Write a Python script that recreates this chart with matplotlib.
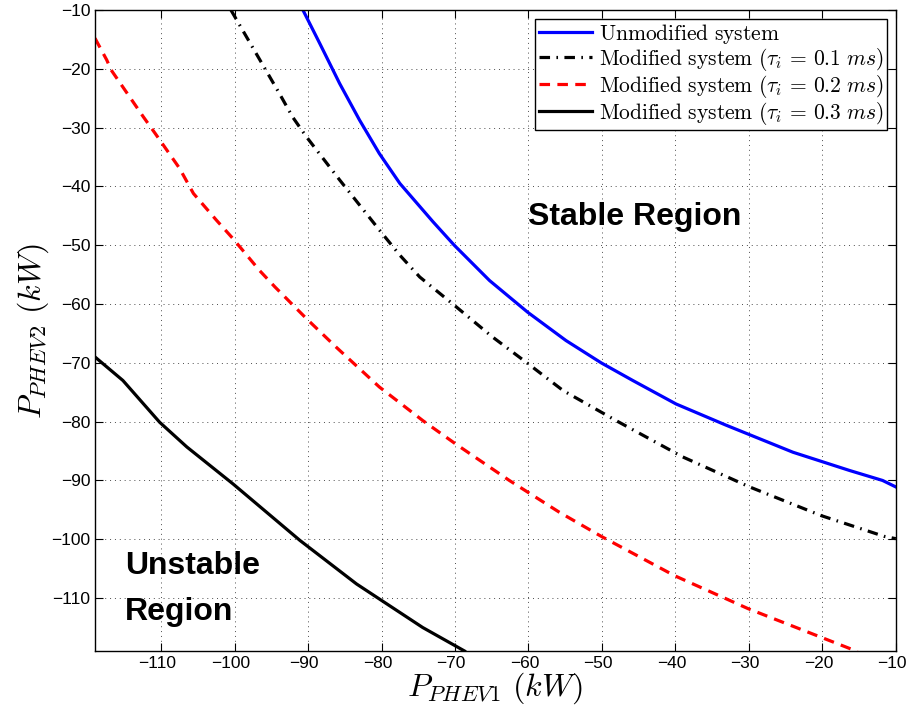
import matplotlib
matplotlib.use("Agg")
from matplotlib import pyplot as plt
from matplotlib.transforms import ScaledTranslation

plt.rcParams['mathtext.fontset'] = 'cm'
plt.rcParams['font.family'] = ['Liberation Sans', 'DejaVu Sans']

# unmodified system
x_unmod = [-90.7, -88.4, -85.7, -83.0, -80.3, -77.5, -73.0, -70.1, -65.3, -60.1,
           -54.9, -50.1, -45.8, -39.9, -33.1, -24.0, -16.3, -11.8, -10.0]
y_unmod = [-10.0, -15.7, -22.5, -28.7, -34.4, -39.5, -46.0, -50.0, -56.0, -61.4,
           -66.2, -70.0, -73.0, -77.0, -80.6, -85.2, -88.3, -90.0, -91.1]

# tau = 0.1 ms
x_t1 = [-100.5, -93.9, -92.1, -90.2, -85.7, -80.3, -77.5, -74.8, -70.1, -65.0,
        -60.1, -55.3, -48.1, -39.0, -29.9, -20.1, -11.6, -10.0]
y_t1 = [-10.0, -24.2, -28.2, -31.6, -38.9, -47.4, -51.7, -55.4, -60.2, -65.5,
        -70.1, -74.7, -79.8, -86.0, -91.1, -96.0, -99.5, -99.9]

# tau = 0.2 ms
x_t2 = [-119.0, -117.4, -116.8, -112.4, -110.8, -107.5, -105.6, -102.5, -100.2, -96.6,
        -94.5, -90.2, -86.2, -80.3, -74.4, -69.9, -62.6, -55.8, -50.1, -40.1,
        -30.1, -20.1, -15.2]
y_t2 = [-14.8, -18.5, -20.2, -28.2, -31.0, -36.9, -41.2, -45.7, -48.9, -54.3,
        -57.1, -62.5, -67.3, -74.1, -79.8, -83.8, -90.0, -95.4, -99.5, -106.2,
        -111.8, -116.7, -119.1]

# tau = 0.3 ms
x_t3 = [-119.0, -115.2, -110.2, -106.5, -100.2, -91.1, -83.4, -74.4, -68.7]
y_t3 = [-69.0, -73.0, -80.1, -84.3, -90.6, -100.2, -107.6, -115.0, -119.0]

xticks = [-110, -100, -90, -80, -70, -60, -50, -40, -30, -20, -10]
yticks = [-110, -100, -90, -80, -70, -60, -50, -40, -30, -20, -10]

fig = plt.figure(figsize=(9.09, 7.15), dpi=100)
ax = fig.add_axes([0.1045, 0.0895, 0.881, 0.8965])

lw = 2.3
ax.plot(x_unmod, y_unmod, color='blue', lw=lw, label=r'$\mathrm{Unmodified\ system}$')
ax.plot(x_t1, y_t1, color='black', lw=lw, dashes=(3.3, 2.0, 0.5, 2.0),
        label=r'$\mathrm{Modified\ system}\ (\tau_i\,=\,0.1\ ms)\ \ $')
ax.plot(x_t2, y_t2, color='red', lw=lw, dashes=(3.3, 2.3),
        label=r'$\mathrm{Modified\ system}\ (\tau_i\,=\,0.2\ ms)\ \ $')
ax.plot(x_t3, y_t3, color='black', lw=lw,
        label=r'$\mathrm{Modified\ system}\ (\tau_i\,=\,0.3\ ms)\ \ $')

ax.set_xlim(-119, -10)
ax.set_ylim(-119, -10)
ax.set_xticks(xticks)
ax.set_yticks(yticks)
ax.set_xticklabels(['\u2212' + str(-t) for t in xticks])
ax.set_yticklabels(['\u2212' + str(-t) for t in yticks])
ax.tick_params(direction='in', top=True, right=True, labelsize=12.5, length=6, width=0.8)
shift = ScaledTranslation(-4 / 100, 0, fig.dpi_scale_trans)
for lab in ax.get_xticklabels():
    lab.set_transform(lab.get_transform() + shift)
ax.grid(True, color='black', linestyle=(0, (1, 4)), linewidth=0.7, alpha=0.7)
for s in ax.spines.values():
    s.set_linewidth(1.0)

ax.set_xlabel(r'$P_{PHEV1}\ (kW)$', fontsize=23, labelpad=0)
ax.set_ylabel(r'$P_{PHEV2}\ (kW)$', fontsize=23, labelpad=0)

ax.text(-60.1, -45.2, 'Stable Region', fontsize=23, fontweight='bold', va='center')
ax.text(-114.9, -104.5, 'Unstable', fontsize=23, fontweight='bold', va='center')
ax.text(-114.9, -112.3, 'Region', fontsize=23, fontweight='bold', va='center')

leg = ax.legend(loc='upper right', fontsize=15.5, handlelength=2.5, handletextpad=0.3,
                borderpad=0.15, labelspacing=0.0, borderaxespad=0.4, fancybox=False,
                framealpha=1)
leg.get_frame().set_edgecolor('black')
leg.get_frame().set_linewidth(1.0)

fig.savefig('out.png', dpi=100)
